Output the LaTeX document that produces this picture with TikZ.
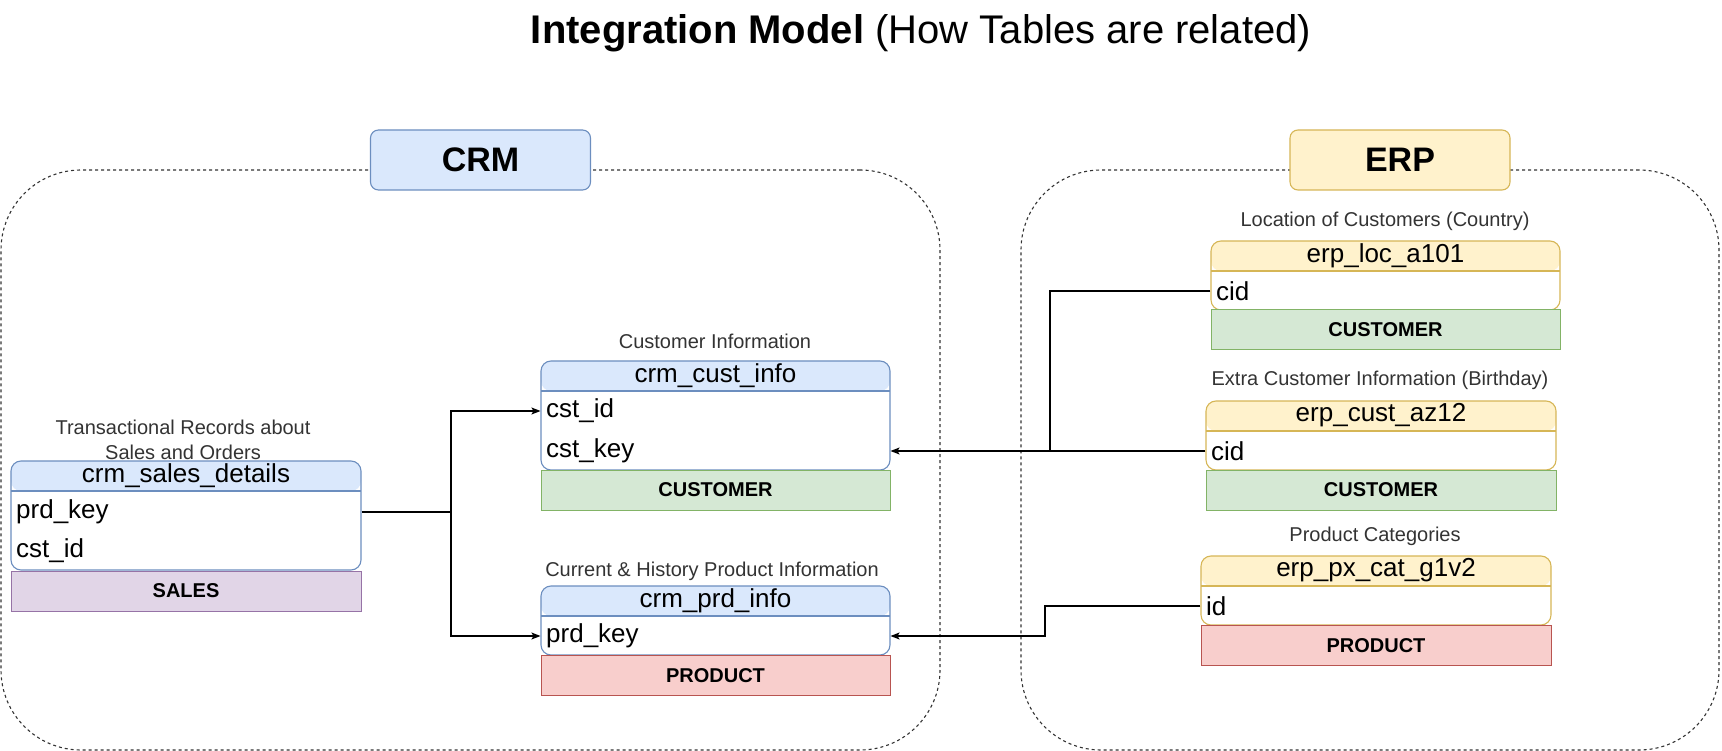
\documentclass[tikz,border=0pt]{standalone}
\usepackage{fontspec}
\setmainfont{Liberation Sans}
\usetikzlibrary{arrows.meta}
\definecolor{crmfill}{HTML}{DAE8FC}
\definecolor{crmline}{HTML}{6C8EBF}
\definecolor{erpfill}{HTML}{FFF2CC}
\definecolor{erpline}{HTML}{D6B656}
\definecolor{custfill}{HTML}{D5E8D4}
\definecolor{custline}{HTML}{82B366}
\definecolor{prodfill}{HTML}{F8CECC}
\definecolor{prodline}{HTML}{B85450}
\definecolor{salesfill}{HTML}{E1D5E7}
\definecolor{salesline}{HTML}{9673A6}
\definecolor{capgray}{HTML}{333333}

\begin{document}
\begin{tikzpicture}[x=1pt,y=-1pt]
  \tikzset{dbtable/.style 2 args = {shape=rectangle,rounded corners=10pt,draw=#1,fill=white,line width=1.1pt,
      minimum width=350pt,inner sep=0pt,
      path picture={\fill[#2] (path picture bounding box.north west) rectangle ([yshift=-30pt]path picture bounding box.north east);
        \draw[#1,line width=1.1pt] ([yshift=-30pt]path picture bounding box.north west) -- ([yshift=-30pt]path picture bounding box.north east);}}}
  \tikzset{head/.style = {font=\fontsize{26}{30}\selectfont,inner sep=0pt}}
  \tikzset{field/.style = {font=\fontsize{26}{30}\selectfont,inner sep=0pt,anchor=west}}
  \tikzset{band/.style 2 args = {draw=#1,fill=#2,line width=1pt,minimum width=350pt,minimum height=40pt,
      inner sep=0pt,font=\fontsize{20}{24}\selectfont\bfseries}}
  \tikzset{caption/.style = {font=\fontsize{20}{25}\selectfont,text=capgray,inner sep=0pt,align=center}}
  \tikzset{group/.style = {draw=capgray,dash pattern=on 3pt off 3pt,line width=1.1pt,rounded corners=80pt}}
  \tikzset{tag/.style 2 args = {draw=#1,fill=#2,rounded corners=8pt,line width=1.1pt,minimum width=220pt,
      minimum height=60pt,font=\fontsize{34}{40}\selectfont\bfseries}}
  \tikzset{link/.style = {-{Stealth[length=9pt,width=7pt,inset=2pt]},line width=1.2pt}}
  \tikzset{wire/.style = {line width=1.2pt}}

  \useasboundingbox (0,0) rectangle (1722,751);

  \node (title) at (921,33) {\fontsize{40}{48}\selectfont\textbf{Integration Model} (How Tables are related)};

  % source systems
  \node[group,minimum width=939pt,minimum height=580pt] (crm) at (470.5,460) {};
  \node[group,minimum width=698pt,minimum height=580pt] (erp) at (1370,460) {};
  \node[tag={crmline}{crmfill}] (crmtag) at (480.5,160) {CRM};
  \node[tag={erpline}{erpfill}] (erptag) at (1400,160) {ERP};

  % crm tables
  \node[caption] (salescap) at (183,440) {Transactional Records about\\Sales and Orders};
  \node[dbtable={crmline}{crmfill},minimum height=109pt] (sales) at (186,515.5) {};
  \node[head] (salesh) at ([yshift=-15pt]sales.north) {crm\_sales\_details};
  \node[field] (salesprd) at (16,512) {prd\_key};
  \node[field] (salescst) at (16,551) {cst\_id};
  \node[band={salesline}{salesfill}] (salesband) at (186,591) {SALES};

  \node[caption] (custcap) at (715,341) {Customer Information};
  \node[dbtable={crmline}{crmfill},minimum width=349pt,minimum height=109pt] (cust) at (715.5,415.5) {};
  \node[head] (custh) at ([yshift=-15pt]cust.north) {crm\_cust\_info};
  \node[field] (custid) at (546,411) {cst\_id};
  \node[field] (custkey) at (546,451) {cst\_key};
  \node[band={custline}{custfill},minimum width=349pt] (custband) at (715.5,490) {CUSTOMER};

  \node[caption] (prdcap) at (712,571) {Current \& History Product Information};
  \node[dbtable={crmline}{crmfill},minimum width=349pt,minimum height=69pt] (prd) at (715.5,620.5) {};
  \node[head] (prdh) at ([yshift=-15pt]prd.north) {crm\_prd\_info};
  \node[field] (prdkey) at (546,636) {prd\_key};
  \node[band={prodline}{prodfill},minimum width=349pt] (prdband) at (715.5,675.5) {PRODUCT};

  % erp tables
  \node[caption] (loccap) at (1385,221) {Location of Customers (Country)};
  \node[dbtable={erpline}{erpfill},minimum width=349pt,minimum height=69pt] (loc) at (1385.5,275.5) {};
  \node[head] (loch) at ([yshift=-15pt]loc.north) {erp\_loc\_a101};
  \node[field] (loccid) at (1216,291) {cid};
  \node[band={custline}{custfill},minimum width=349pt] (locband) at (1385.5,330) {CUSTOMER};

  \node[caption] (azcap) at (1380,380) {Extra Customer Information (Birthday)};
  \node[dbtable={erpline}{erpfill},minimum height=69pt] (az) at (1381,435.5) {};
  \node[head] (azh) at ([yshift=-15pt]az.north) {erp\_cust\_az12};
  \node[field] (azcid) at (1211,451) {cid};
  \node[band={custline}{custfill}] (azband) at (1381,490) {CUSTOMER};

  \node[caption] (pxcap) at (1375,536) {Product Categories};
  \node[dbtable={erpline}{erpfill},minimum height=69pt] (px) at (1376,590.5) {};
  \node[head] (pxh) at ([yshift=-15pt]px.north) {erp\_px\_cat\_g1v2};
  \node[field] (pxid) at (1206,606) {id};
  \node[band={prodline}{prodfill}] (pxband) at (1376,645.5) {PRODUCT};

  % relations
  \coordinate (split) at (451,512);
  \coordinate (join) at (1050,451);
  \coordinate (bend) at (1045,606);
  \draw[wire] (sales.east |- salesprd) -- (split);
  \foreach \to/\row in {cust/custid, prd/prdkey}
    \draw[link] (split) |- (\to.west |- \row);
  \draw[wire] (loc.west |- loccid) -| (join);
  \draw[link] (az.west |- azcid) -- (cust.east |- custkey);
  \draw[link] (px.west |- pxid) -- (bend) |- (prd.east |- prdkey);
\end{tikzpicture}
\end{document}
